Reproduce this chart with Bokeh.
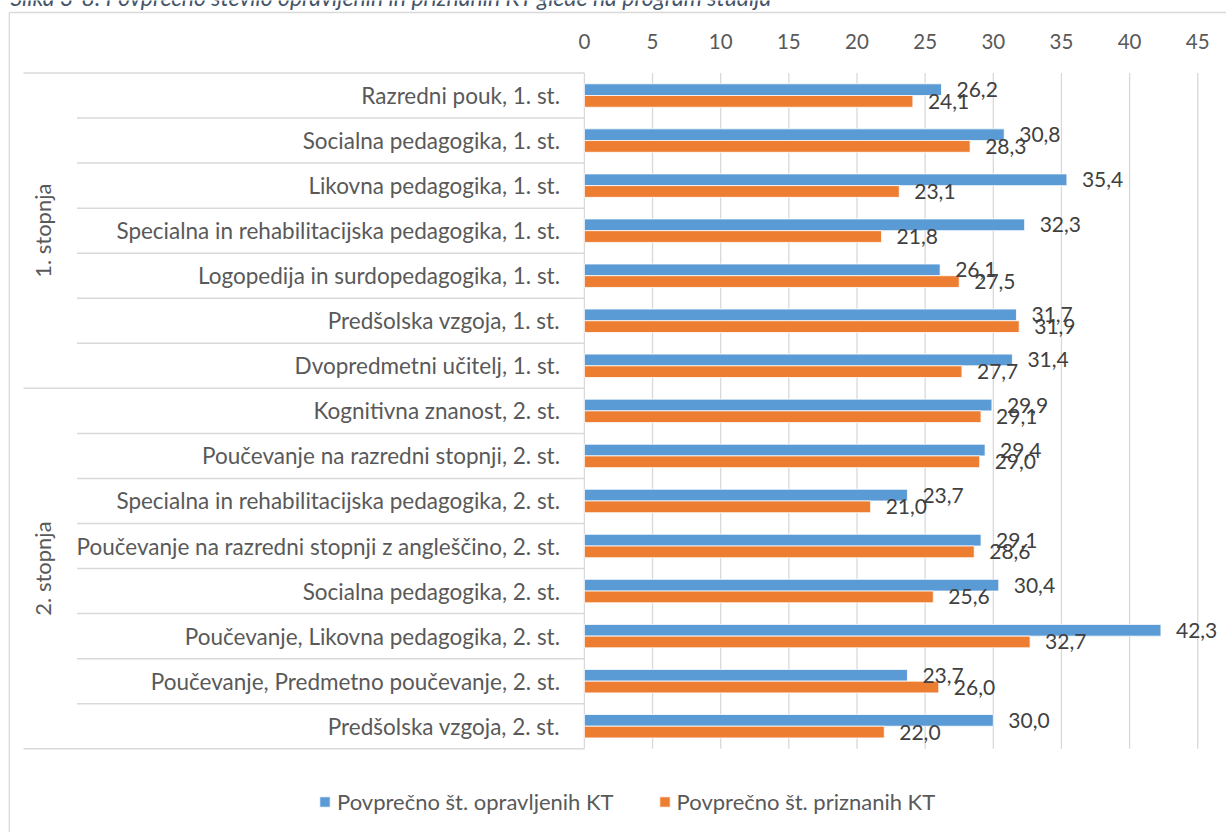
import math
from bokeh.plotting import figure
from bokeh.models import Range1d, Legend, LegendItem, ColumnDataSource
from bokeh.core.properties import value
from bokeh.embed import file_html
from bokeh.resources import INLINE

# ---------------- data ----------------
title = "Slika 3-8: Povprečno število opravljenih in priznanih KT glede na program študija"
groups = ["1. stopnja", "2. stopnja"]
programs = [
    "Razredni pouk, 1. st.",
    "Socialna pedagogika, 1. st.",
    "Likovna pedagogika, 1. st.",
    "Specialna in rehabilitacijska pedagogika, 1. st.",
    "Logopedija in surdopedagogika, 1. st.",
    "Predšolska vzgoja, 1. st.",
    "Dvopredmetni učitelj, 1. st.",
    "Kognitivna znanost, 2. st.",
    "Poučevanje na razredni stopnji, 2. st.",
    "Specialna in rehabilitacijska pedagogika, 2. st.",
    "Poučevanje na razredni stopnji z angleščino, 2. st.",
    "Socialna pedagogika, 2. st.",
    "Poučevanje, Likovna pedagogika, 2. st.",
    "Poučevanje, Predmetno poučevanje, 2. st.",
    "Predšolska vzgoja, 2. st.",
]
program_group = [0, 0, 0, 0, 0, 0, 0, 1, 1, 1, 1, 1, 1, 1, 1]
opravljeni = [26.2, 30.8, 35.4, 32.3, 26.1, 31.7, 31.4, 29.9, 29.4, 23.7, 29.1, 30.4, 42.3, 23.7, 30.0]
priznani = [24.1, 28.3, 23.1, 21.8, 27.5, 31.9, 27.7, 29.1, 29.0, 21.0, 28.6, 25.6, 32.7, 26.0, 22.0]
series_names = ["Povprečno št. opravljenih KT", "Povprečno št. priznanih KT"]
ticks = [0, 5, 10, 15, 20, 25, 30, 35, 40, 45]

# ---------------- layout (pixels) ----------------
W, H = 1226, 832
X0_PX = 583.9          # canvas x of value 0
PX_PER_UNIT = 13.63
ROW_TOP_PX = 72.5      # canvas y of the first row's top edge
ROW_PX = 45.05

FONT = "Lato"
FS_CAT = "22.5px"
FS_GRP = "22px"
FS_LEG = "22px"
FS_TICK = "20.5px"
FS_DATA = "21px"
GREY = "#595959"
DARK = "#404040"
CAPTION = "#44546A"
LINE = "#D9D9D9"
BLUE = "#5B9BD5"
ORANGE = "#ED7D31"

n = len(programs)
x_start = -X0_PX / PX_PER_UNIT
x_end = (W - X0_PX) / PX_PER_UNIT
y_top = -0.5 - ROW_TOP_PX / ROW_PX
y_bottom = y_top + H / ROW_PX


def xd(px):
    return x_start + px / PX_PER_UNIT


def yd(py):
    return y_top + py / ROW_PX


p = figure(width=W, height=H, x_range=Range1d(x_start, x_end),
           y_range=Range1d(y_bottom, y_top), min_border=0,
           x_axis_location=None, y_axis_location=None,
           output_backend="svg", toolbar_location=None)
p.xgrid.visible = False
p.ygrid.visible = False
p.outline_line_color = None
p.background_fill_color = "white"
p.border_fill_color = "white"

# caption above the chart (cut off at the top, as in the source)
p.text(x=[xd(10)], y=[yd(-3.2)], text=[title], text_align="left",
       text_baseline="middle", text_font=value(FONT), text_font_style="italic",
       text_font_size="23px", text_color=CAPTION)

# outer chart border (left and top edges visible)
p.segment(x0=[xd(8.8), xd(8.8)], y0=[yd(12), yd(12)],
          x1=[xd(8.8), xd(W)], y1=[yd(H), yd(12)],
          line_color=LINE, line_width=1.3)

# vertical gridlines
p.segment(x0=ticks, x1=ticks, y0=[-0.5] * len(ticks), y1=[n - 0.5] * len(ticks),
          line_color=LINE, line_width=1.3)

# category separators
group_bounds = [0] + [i for i in range(1, n) if program_group[i] != program_group[i - 1]] + [n]
sx0, sy = [], []
for b in range(n + 1):
    sy.append(b - 0.5)
    sx0.append(xd(23) if b in group_bounds else xd(76.5))
p.segment(x0=sx0, x1=[0] * len(sy), y0=sy, y1=sy, line_color=LINE, line_width=1.5)

# bars
idx = list(range(n))
src = ColumnDataSource(dict(
    y1=[i - 0.13 for i in idx], y2=[i + 0.13 for i in idx],
    a=opravljeni, b=priznani,
    la=[f"{v:.1f}".replace(".", ",") for v in opravljeni],
    lb=[f"{v:.1f}".replace(".", ",") for v in priznani],
    prog=programs, yi=idx,
))
r1 = p.hbar(y="y1", left=0, right="a", height=0.26, source=src,
            fill_color=BLUE, line_color="white", line_width=0.8)
r2 = p.hbar(y="y2", left=0, right="b", height=0.26, source=src,
            fill_color=ORANGE, line_color="white", line_width=0.8)

# data labels
p.text(x="a", y="y1", text="la", source=src, x_offset=15, text_align="left",
       text_baseline="middle", text_font=value(FONT), text_font_size=FS_DATA, text_color=DARK)
p.text(x="b", y="y2", text="lb", source=src, x_offset=15, text_align="left",
       text_baseline="middle", text_font=value(FONT), text_font_size=FS_DATA, text_color=DARK)

# category labels
p.text(x=0, y="yi", text="prog", source=src, x_offset=-24.4, text_align="right",
       text_baseline="middle", text_font=value(FONT), text_font_size=FS_CAT, text_color=GREY)

# group labels
gcent = []
for g in range(len(groups)):
    members = [i for i in idx if program_group[i] == g]
    gcent.append(sum(members) / len(members))
p.text(x=[xd(41.5)] * len(groups), y=gcent, text=groups, angle=math.pi / 2,
       text_align="center", text_baseline="middle", text_font=value(FONT),
       text_font_size=FS_GRP, text_color=GREY)

# tick labels (top value axis)
p.text(x=ticks, y=[yd(41)] * len(ticks), text=[str(t) for t in ticks],
       text_align="center", text_baseline="middle", text_font=value(FONT),
       text_font_size=FS_TICK, text_color=GREY)

# legend
legend = Legend(items=[LegendItem(label=series_names[0], renderers=[r1]),
                       LegendItem(label=series_names[1], renderers=[r2])],
                orientation="horizontal", location=(318, 17.5),
                glyph_width=13, glyph_height=13, label_standoff=6, spacing=44,
                padding=0, margin=0, border_line_color=None,
                background_fill_alpha=0, label_text_font=FONT,
                label_text_font_size=FS_LEG, label_text_color=GREY, label_height=26)
p.add_layout(legend)

open("out.html", "w").write(file_html(p, INLINE))
